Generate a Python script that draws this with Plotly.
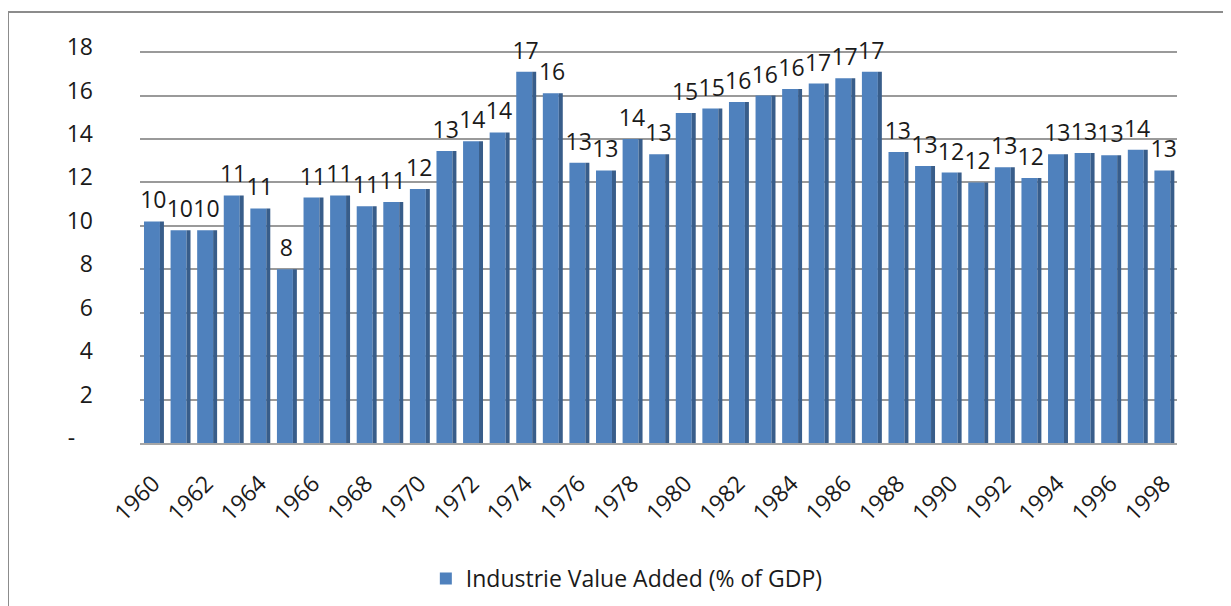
import plotly.graph_objects as go

years = list(range(1960, 1999))
values = [10.2, 9.8, 9.8, 11.4, 10.8, 8.0, 11.3, 11.4, 10.9, 11.1,
          11.7, 13.45, 13.9, 14.3, 17.1, 16.1, 12.9, 12.55, 14.0, 13.3,
          15.2, 15.4, 15.7, 16.0, 16.3, 16.55, 16.8, 17.1, 13.4, 12.75,
          12.45, 12.0, 12.7, 12.2, 13.3, 13.35, 13.25, 13.5, 12.55]
series_name = "Industrie Value Added (% of GDP)"
y_tickvals = [0, 2, 4, 6, 8, 10, 12, 14, 16, 18]
y_ticktext = ["-\u00a0\u00a0\u00a0", "2", "4", "6", "8", "10", "12", "14", "16", "18"]
x_tickvals = years[::2]

FONT = "Open Sans"
TXT = "#1a1a1a"
FS = 23

fig = go.Figure()
# front face
fig.add_trace(go.Bar(x=years, y=values, name=series_name, width=0.6, offset=-0.35,
                     marker=dict(color="#4F81BD", line=dict(width=0)),
                     showlegend=True, hoverinfo="y"))
# side face (3D look)
fig.add_trace(go.Bar(x=years, y=values, width=0.15, offset=0.25,
                     marker=dict(color="#385D8A", line=dict(width=0)),
                     showlegend=False, hoverinfo="skip"))
# data labels
fig.add_trace(go.Scatter(x=years, y=values, mode="text+markers",
                         marker=dict(size=10, color="rgba(0,0,0,0)"),
                         texttemplate="%{y:.0f}",
                         textposition="top center",
                         textfont=dict(family=FONT, size=FS, color=TXT),
                         showlegend=False, hoverinfo="skip", cliponaxis=False))

# page body has an 8px margin, so the figure is made 8px smaller
fig.update_layout(
    width=1223, height=598,
    margin=dict(l=132, r=54, t=43, b=163),
    paper_bgcolor="white", plot_bgcolor="white",
    barmode="overlay",
    font=dict(family=FONT, size=FS, color=TXT),
    xaxis=dict(range=[1959.5, 1998.5], tickmode="array", tickvals=x_tickvals,
               ticktext=[str(y) for y in x_tickvals], tickangle=-45,
               showgrid=False, zeroline=False, showline=True,
               linecolor="#A6A6A6", linewidth=2, ticks="",
               ticklabelstandoff=16,
               tickfont=dict(family=FONT, size=FS, color=TXT)),
    yaxis=dict(range=[0, 18.05], tickmode="array", tickvals=y_tickvals,
               ticktext=y_ticktext, showgrid=True, gridcolor="#9A9A9A",
               gridwidth=2, zeroline=False, showline=False, ticks="",
               ticklabelstandoff=46, ticklabelshift=-5,
               tickfont=dict(family=FONT, size=FS, color=TXT)),
    legend=dict(orientation="h", xref="container", yref="container",
                x=0.506, y=0.046, xanchor="center", yanchor="middle",
                font=dict(family=FONT, size=FS, color=TXT),
                bgcolor="rgba(0,0,0,0)"),
    shapes=[dict(type="rect", xref="paper", yref="paper",
                 x0=-0.1273, x1=1.1, y0=-0.6, y1=1.0995,
                 line=dict(color="#8C8C8C", width=2), layer="below")],
)

fig.write_html("out.html")
